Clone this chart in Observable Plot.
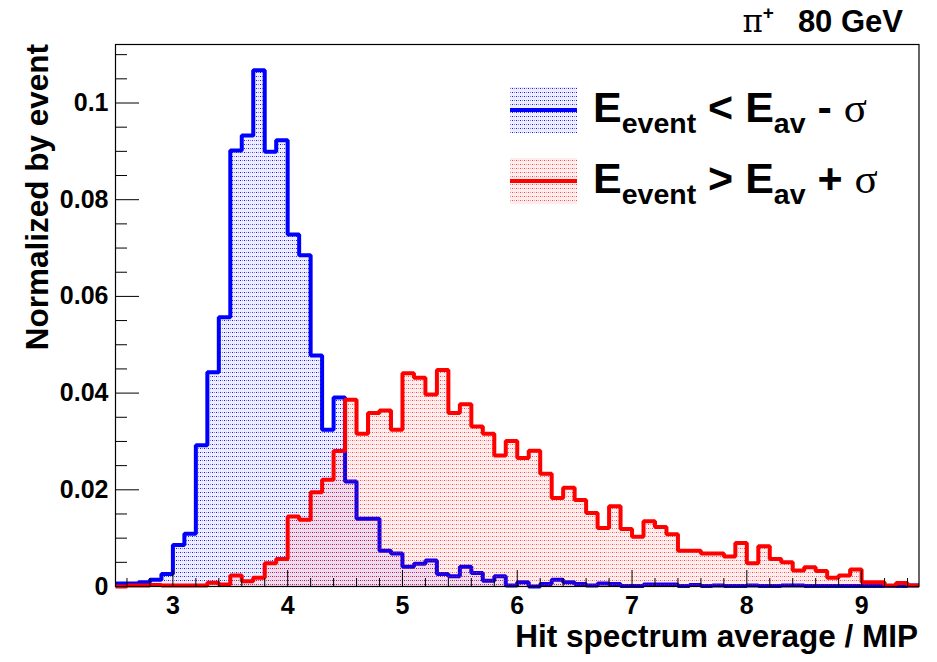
<!DOCTYPE html>
<html><head><meta charset="utf-8">
<script src="https://cdn.jsdelivr.net/npm/d3@7"></script>
<script src="https://cdn.jsdelivr.net/npm/@observablehq/plot@0.6"></script>
<style>body{margin:0;background:#fff;}</style>
</head><body><div id="chart"></div>
<script>
const xMin = 2.5, xMax = 9.5, binWidth = 0.1;
const blueValues = [
 0.0006,0.0006,0.0009,0.0014,0.0026, 0.0086,0.0109,0.0292,0.0443,0.0557,
 0.0902,0.0933,0.1068,0.0899,0.0923, 0.0728,0.0685,0.0478,0.0324,0.0391,
 0.0217,0.0140,0.0140,0.0074,0.0068, 0.0041,0.0047,0.0054,0.0026,0.0021,
 0.0041,0.0028,0.0012,0.0021,0.0002, 0.0009,0.0000,0.0005,0.0014,0.0009,
 0.0005,0.0002,0.0006,0.0005,0.0001, 0.0001,0.0004,0.0004,0.0004,0.0001,
 0.0003,0.0001,0.0002,0.0001,0.0001, 0.0002,0.0001,0.0001,0.0002,0.0002,
 0.0001,0.0001,0.0001,0.0001,0.0001, 0.0001,0.0001,0.0001,0.0001,0.0002
];
const redValues = [
 0.0000,0.0002,0.0002,0.0003,0.0002, 0.0002,0.0002,0.0002,0.0008,0.0004,
 0.0023,0.0011,0.0018,0.0048,0.0057, 0.0145,0.0138,0.0195,0.0221,0.0280,
 0.0386,0.0316,0.0359,0.0364,0.0324, 0.0441,0.0432,0.0397,0.0448,0.0359,
 0.0377,0.0331,0.0316,0.0271,0.0301, 0.0266,0.0281,0.0233,0.0183,0.0204,
 0.0179,0.0152,0.0121,0.0166,0.0119, 0.0103,0.0135,0.0123,0.0108,0.0074,
 0.0074,0.0068,0.0068,0.0062,0.0090, 0.0048,0.0083,0.0057,0.0050,0.0033,
 0.0040,0.0032,0.0018,0.0023,0.0035, 0.0009,0.0009,0.0002,0.0007,0.0002
];
const xTicksMajor = [3,4,5,6,7,8,9];
const xTickLabels = ["3","4","5","6","7","8","9"];
const xTicksMinor = [2.6,2.8,3.2,3.4,3.6,3.8,4.2,4.4,4.6,4.8,5.2,5.4,5.6,5.8,6.2,6.4,6.6,6.8,7.2,7.4,7.6,7.8,8.2,8.4,8.6,8.8,9.2,9.4];
const yTicksMajor = [0,0.02,0.04,0.06,0.08,0.1];
const yTickLabels = ["0","0.02","0.04","0.06","0.08","0.1"];
const yTicksMinor = [0.005,0.01,0.015,0.025,0.03,0.035,0.045,0.05,0.055,0.065,0.07,0.075,0.085,0.09,0.095,0.105,0.11];
const yMax = 0.1121;
const xTitle = "Hit spectrum average / MIP";
const yTitle = "Normalized by event";
const blueColor = "#0000ff", redColor = "#ff0000";

const bins = blueValues.map((v, i) => ({
  x1: Math.round((xMin + i * binWidth) * 10) / 10,
  x2: Math.round((xMin + (i + 1) * binWidth) * 10) / 10,
  blue: v, red: redValues[i]
}));
const stepPts = key => bins.map(b => ({x: b.x1, y: b[key]})).concat([{x: xMax, y: bins[bins.length - 1][key]}]);

const FONT = "'Liberation Sans', Arial, Helvetica, sans-serif";
const SERIF = "'Liberation Serif', 'DejaVu Serif', serif";
const tickFont = 25;

const plot = Plot.plot({
  width: 937, height: 662,
  marginLeft: 115, marginRight: 18.5, marginTop: 44, marginBottom: 76,
  style: {fontFamily: FONT, background: "#fff"},
  x: {domain: [xMin, xMax]},
  y: {domain: [0, yMax]},
  marks: [
    Plot.rectY(bins, {x1: "x1", x2: "x2", y: "blue", fill: "url(#patBlue)"}),
    Plot.line(stepPts("blue"), {x: "x", y: "y", curve: "step-after", stroke: blueColor, strokeWidth: 4, strokeLinejoin: "miter", strokeLinecap: "butt"}),
    Plot.rectY(bins, {x1: "x1", x2: "x2", y: "red", fill: "url(#patRed)"}),
    Plot.line(stepPts("red"), {x: "x", y: "y", curve: "step-after", stroke: redColor, strokeWidth: 4, strokeLinejoin: "miter", strokeLinecap: "butt"}),
    Plot.axisY(yTicksMajor, {tickSize: 24, dx: 24, text: null, label: null, stroke: "black"}),
    Plot.axisY(yTicksMinor, {tickSize: 12, dx: 12, text: null, label: null, stroke: "black"}),
    Plot.axisY(yTicksMajor, {tickSize: 0, tickPadding: 7, label: null, fontSize: tickFont, fontWeight: "bold",
      tickFormat: d => yTickLabels[yTicksMajor.indexOf(d)]}),
    Plot.axisX(xTicksMajor, {tickSize: 16, dy: -16, text: null, label: null, stroke: "black"}),
    Plot.axisX(xTicksMinor, {tickSize: 8, dy: -8, text: null, label: null, stroke: "black"}),
    Plot.axisX(xTicksMajor, {tickSize: 0, tickPadding: 10, label: null, fontSize: tickFont, fontWeight: "bold",
      tickFormat: d => xTickLabels[xTicksMajor.indexOf(d)]}),
    Plot.frame({stroke: "black", strokeWidth: 1.2})
  ]
});
document.getElementById("chart").appendChild(plot);

const svg = d3.select(plot);
const defs = svg.insert("defs", ":first-child");
function addPattern(id, color, dotOpacity) {
  const p = defs.append("pattern").attr("id", id).attr("patternUnits", "userSpaceOnUse")
    .attr("width", 4).attr("height", 4);
  p.append("rect").attr("width", 4).attr("height", 4).attr("fill", color).attr("fill-opacity", 0.07);
  p.append("rect").attr("x", 0).attr("y", 0).attr("width", 1).attr("height", 1).attr("fill", color).attr("fill-opacity", dotOpacity);
  p.append("rect").attr("x", 2).attr("y", 0).attr("width", 1).attr("height", 1).attr("fill", color).attr("fill-opacity", dotOpacity * 0.5);
}
addPattern("patBlue", blueColor, 0.9);
addPattern("patRed", redColor, 0.7);

// axis titles
svg.append("text").attr("x", 918).attr("y", 647).attr("text-anchor", "end")
  .attr("font-family", FONT).attr("font-weight", "bold").attr("font-size", 31.5).text(xTitle);
svg.append("text").attr("transform", "translate(48,44) rotate(-90)").attr("text-anchor", "end")
  .attr("font-family", FONT).attr("font-weight", "bold").attr("font-size", 31.5).text(yTitle);

// top-right label
const topLabel = svg.append("text").attr("x", 903).attr("y", 32).attr("text-anchor", "end").attr("font-size", 31);
topLabel.append("tspan").attr("font-family", "'DejaVu Serif', serif").attr("font-size", 31).text("π");
topLabel.append("tspan").attr("font-family", FONT).attr("font-weight", "bold").attr("font-size", 19).attr("dy", -13).text("+");
topLabel.append("tspan").attr("font-family", FONT).attr("font-weight", "bold").attr("dy", 13).attr("dx", 24).text("80 GeV");

// legend
const legendItems = [
  {color: blueColor, pat: "patBlue", y: 87, op: "<", sign: "-"},
  {color: redColor, pat: "patRed", y: 158, op: ">", sign: "+"}
];
legendItems.forEach(L => {
  svg.append("rect").attr("x", 510).attr("y", L.y).attr("width", 67).attr("height", 46).attr("fill", `url(#${L.pat})`);
  svg.append("line").attr("x1", 510).attr("x2", 577).attr("y1", L.y + 23).attr("y2", L.y + 23)
    .attr("stroke", L.color).attr("stroke-width", 4);
  const t = svg.append("text").attr("x", 593).attr("y", L.y + 35).attr("text-anchor", "start")
    .attr("font-family", FONT).attr("font-weight", "bold").attr("font-size", 43);
  t.append("tspan").text("E");
  t.append("tspan").attr("font-size", 28.5).attr("dy", 11).text("event");
  t.append("tspan").attr("dy", -11).text(` ${L.op} E`);
  t.append("tspan").attr("font-size", 28.5).attr("dy", 11).text("av");
  t.append("tspan").attr("dy", -11).text(` ${L.sign} `);
  t.append("tspan").attr("font-family", SERIF).attr("font-weight", "normal").text("σ");
});
</script>
</body></html>
